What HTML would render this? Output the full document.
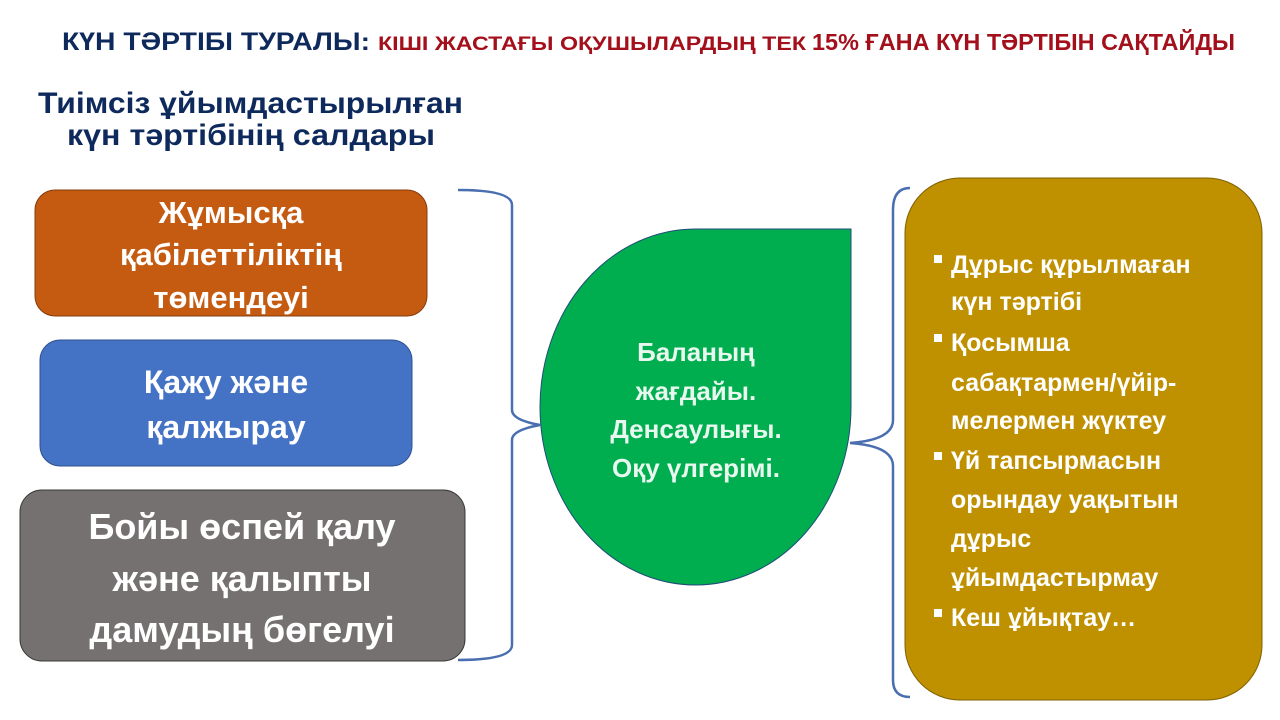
<!DOCTYPE html>
<html><head><meta charset="utf-8"><style>
html,body{margin:0;padding:0;background:#fff;width:1280px;height:720px;overflow:hidden}
text{font-family:"Liberation Sans",sans-serif;font-weight:bold}
</style></head><body>
<svg width="1280" height="720" xmlns="http://www.w3.org/2000/svg">
<text x="62" y="50" font-size="25" fill="#0e2a5c" textLength="308" lengthAdjust="spacingAndGlyphs">КҮН ТӘРТІБІ ТУРАЛЫ:</text>
<text x="378" y="50" font-size="19" fill="#a30f1a" textLength="428" lengthAdjust="spacingAndGlyphs">КІШІ ЖАСТАҒЫ ОҚУШЫЛАРДЫҢ ТЕК</text>
<text x="812" y="50" font-size="23" fill="#a30f1a" textLength="423" lengthAdjust="spacingAndGlyphs">15% ҒАНА КҮН ТӘРТІБІН САҚТАЙДЫ</text>
<text x="38" y="113" font-size="30" fill="#0e2a5c" textLength="425" lengthAdjust="spacingAndGlyphs">Тиімсіз ұйымдастырылған</text>
<text x="67" y="145" font-size="30" fill="#0e2a5c" textLength="368" lengthAdjust="spacingAndGlyphs">күн тәртібінің салдары</text>

<rect x="35" y="190" width="392" height="126" rx="20" fill="#c55a11" stroke="#843c0c" stroke-width="1"/>
<g fill="#fff" font-size="31" text-anchor="middle">
<text x="231" y="223">Жұмысқа</text>
<text x="231" y="265">қабілеттіліктің</text>
<text x="231" y="308">төмендеуі</text>
</g>
<rect x="40" y="340" width="372" height="126" rx="20" fill="#4472c4" stroke="#2f528f" stroke-width="1"/>
<g fill="#fff" font-size="32" text-anchor="middle">
<text x="226" y="393">Қажу және</text>
<text x="226" y="438">қалжырау</text>
</g>
<rect x="20" y="490" width="445" height="171" rx="22" fill="#767171" stroke="#3a3838" stroke-width="1"/>
<g fill="#fff" font-size="36" text-anchor="middle">
<text x="242" y="539">Бойы өспей қалу</text>
<text x="242" y="591">және қалыпты</text>
<text x="242" y="642">дамудың бөгелуі</text>
</g>

<path d="M458 190 Q512 190 512 205 L512 410 Q512 420 540 425 Q512 430 512 440 L512 645 Q512 660 458 660" fill="none" stroke="#4a6fb0" stroke-width="2.5"/>
<path d="M910 188 Q893 188 893 210 L893 420 Q893 440 850 443 Q893 446 893 466 L893 680 Q893 697 910 697" fill="none" stroke="#4a6fb0" stroke-width="2.5"/>

<path d="M851 229 L851 407 A155.5 178 0 0 1 695.5 585 A155.5 178 0 0 1 540 407 A155.5 178 0 0 1 695.5 229 Z" fill="#00ad4f" stroke="#1f4e79" stroke-width="1"/>
<g fill="#e8f8ef" font-size="26" text-anchor="middle">
<text x="696" y="361">Баланың</text>
<text x="696" y="400">жағдайы.</text>
<text x="696" y="438">Денсаулығы.</text>
<text x="696" y="477">Оқу үлгерімі.</text>
</g>

<rect x="905" y="178" width="357" height="522" rx="55" fill="#bf9000" stroke="#7f6000" stroke-width="1"/>
<g fill="#fff">
<rect x="934" y="255" width="8" height="8"/>
<rect x="934" y="334" width="8" height="8"/>
<rect x="934" y="452" width="8" height="8"/>
<rect x="934" y="609" width="8" height="8"/>
</g>
<g fill="#fff" font-size="25">
<text x="951" y="273">Дұрыс құрылмаған</text>
<text x="951" y="310">күн тәртібі</text>
<text x="951" y="351">Қосымша</text>
<text x="951" y="391">сабақтармен/үйір-</text>
<text x="951" y="429">мелермен жүктеу</text>
<text x="951" y="469">Үй тапсырмасын</text>
<text x="951" y="508">орындау уақытын</text>
<text x="951" y="547">дұрыс</text>
<text x="951" y="586">ұйымдастырмау</text>
<text x="951" y="626">Кеш ұйықтау…</text>
</g>
</svg>
</body></html>
